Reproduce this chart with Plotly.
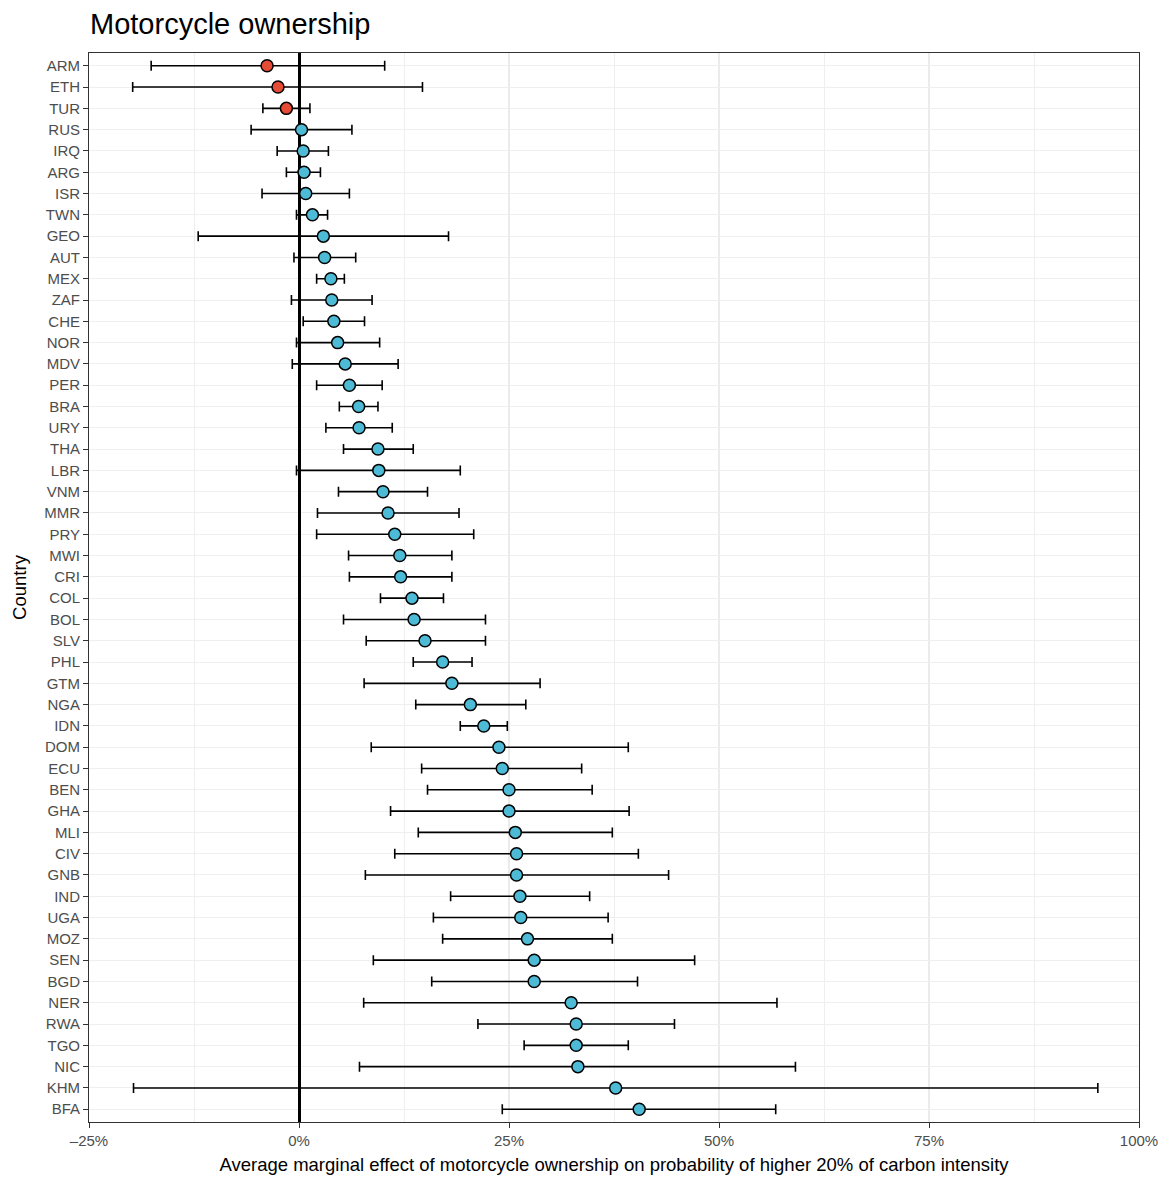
import plotly.graph_objects as go

countries = ["ARM", "ETH", "TUR", "RUS", "IRQ", "ARG", "ISR", "TWN", "GEO", "AUT",
             "MEX", "ZAF", "CHE", "NOR", "MDV", "PER", "BRA", "URY", "THA", "LBR",
             "VNM", "MMR", "PRY", "MWI", "CRI", "COL", "BOL", "SLV", "PHL", "GTM",
             "NGA", "IDN", "DOM", "ECU", "BEN", "GHA", "MLI", "CIV", "GNB", "IND",
             "UGA", "MOZ", "SEN", "BGD", "NER", "RWA", "TGO", "NIC", "KHM", "BFA"]

estimate = [-3.8, -2.5, -1.5, 0.3, 0.5, 0.6, 0.8, 1.6, 2.9, 3.05,
            3.8, 3.9, 4.15, 4.6, 5.5, 6.0, 7.1, 7.15, 9.4, 9.5,
            10.0, 10.6, 11.4, 12.0, 12.1, 13.45, 13.7, 15.0, 17.1, 18.2,
            20.4, 22.0, 23.8, 24.2, 25.0, 25.0, 25.75, 25.9, 25.9, 26.3,
            26.4, 27.2, 28.0, 28.0, 32.4, 33.0, 33.0, 33.2, 37.7, 40.5]

lower = [-17.6, -19.8, -4.3, -5.7, -2.6, -1.5, -4.4, -0.3, -12.0, -0.6,
         2.1, -0.9, 0.5, -0.3, -0.8, 2.1, 4.8, 3.2, 5.3, -0.3,
         4.7, 2.2, 2.1, 5.9, 6.0, 9.7, 5.3, 8.0, 13.6, 7.75,
         13.9, 19.2, 8.6, 14.6, 15.3, 10.9, 14.2, 11.4, 7.9, 18.05,
         16.0, 17.1, 8.85, 15.8, 7.7, 21.3, 26.8, 7.2, -19.7, 24.2]

upper = [10.2, 14.7, 1.3, 6.3, 3.5, 2.55, 6.0, 3.4, 17.8, 6.75,
         5.4, 8.7, 7.8, 9.6, 11.8, 9.9, 9.4, 11.1, 13.6, 19.2,
         15.3, 19.05, 20.8, 18.2, 18.2, 17.2, 22.2, 22.2, 20.6, 28.7,
         27.0, 24.8, 39.2, 33.65, 34.9, 39.3, 37.3, 40.4, 44.0, 34.6,
         36.8, 37.3, 47.1, 40.3, 56.9, 44.7, 39.2, 59.1, 95.1, 56.75]

x_tick_vals = [-25, 0, 25, 50, 75, 100]
x_tick_text = ["\u201325%", "0%", "25%", "50%", "75%", "100%"]

RED = "#E64B35"
BLUE = "#4DBBD5"

# The page body has an 8px default margin; size the figure so the final
# picture lines up with the 1169x1178 reference.
W, H = 1161, 1170

fig = go.Figure()

for neg, color in [(True, RED), (False, BLUE)]:
    idx = [i for i, e in enumerate(estimate) if (e < 0) == neg]
    fig.add_trace(go.Scatter(
        x=[estimate[i] / 100 for i in idx],
        y=[countries[i] for i in idx],
        mode="markers",
        marker=dict(color=color, size=12, line=dict(color="black", width=1.5)),
        error_x=dict(
            type="data", symmetric=False,
            array=[(upper[i] - estimate[i]) / 100 for i in idx],
            arrayminus=[(estimate[i] - lower[i]) / 100 for i in idx],
            color="black", thickness=1.6, width=5,
        ),
        showlegend=False,
        hoverinfo="x+y",
    ))

fig.update_layout(
    width=W, height=H,
    margin=dict(l=81, r=30, t=45, b=56, autoexpand=False),
    paper_bgcolor="white", plot_bgcolor="white",
    font=dict(family="Liberation Sans, Arial, sans-serif", color="#4D4D4D", size=15),
    title=dict(text="Motorcycle ownership", x=82 / W, xref="container", xanchor="left",
               y=1 - 16 / H, yref="container", yanchor="middle",
               font=dict(size=29, color="black")),
    xaxis=dict(
        range=[-0.25, 1.0], automargin=False,
        tickvals=[v / 100 for v in x_tick_vals], ticktext=x_tick_text,
        showgrid=True, gridcolor="#EBEBEB", gridwidth=2,
        minor=dict(dtick=0.125, tick0=-0.25, showgrid=True, gridcolor="#EFEFEF", gridwidth=1, ticks=""),
        zeroline=True, zerolinecolor="black", zerolinewidth=2.5,
        showline=True, linecolor="#333333", linewidth=1, mirror=True,
        ticks="outside", ticklen=5, tickcolor="#333333",
        tickfont=dict(size=15, color="#4D4D4D"),
        title=dict(text="Average marginal effect of motorcycle ownership on probability of higher 20% of carbon intensity",
                   font=dict(size=18.5, color="black"), standoff=10),
    ),
    yaxis=dict(
        type="category", categoryorder="array", categoryarray=countries,
        range=[len(countries) - 0.4, -0.6], automargin=False,
        showgrid=True, gridcolor="#EFEFEF", gridwidth=1,
        showline=True, linecolor="#333333", linewidth=1, mirror=True,
        ticks="outside", ticklen=5, tickcolor="#333333",
        tickfont=dict(size=15, color="#4D4D4D"),
        title=dict(text="Country", font=dict(size=18.5, color="black"), standoff=12),
    ),
)

fig.write_html("out.html")
